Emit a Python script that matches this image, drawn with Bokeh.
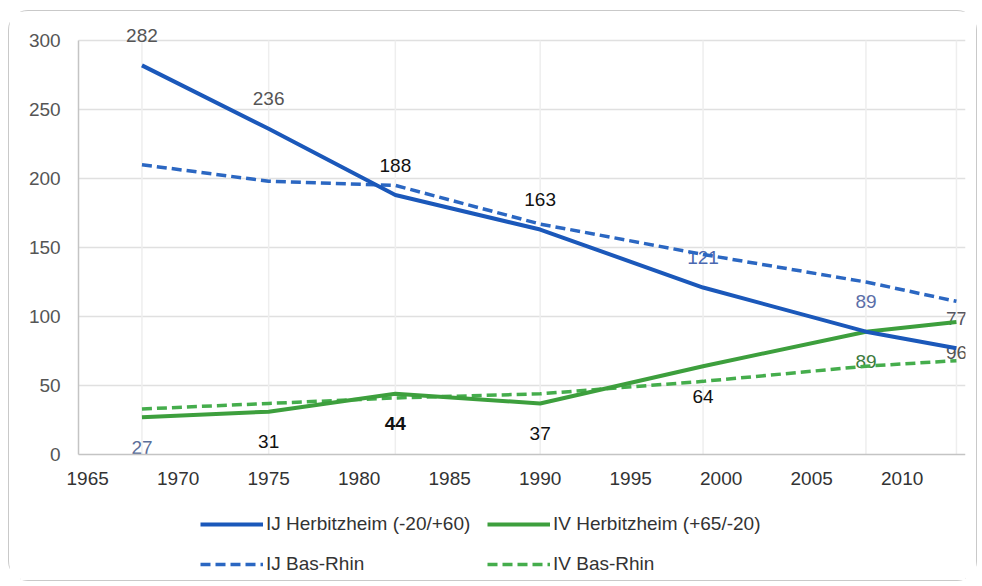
from bokeh.plotting import figure
from bokeh.models import Range1d, FixedTicker, Legend, LegendItem, ColumnDataSource
from bokeh.core.properties import value
from bokeh.embed import file_html
from bokeh.resources import INLINE

# ---- data ----
years = [1968, 1975, 1982, 1990, 1999, 2008, 2013]
ij_herbitzheim = [282, 236, 188, 163, 121, 89, 77]
iv_herbitzheim = [27, 31, 44, 37, 64, 89, 96]
ij_bas_rhin = [210, 198, 195, 167, 145, 125, 111]
iv_bas_rhin = [33, 37, 41, 44, 53, 64, 68]
x_ticks = [1965, 1970, 1975, 1980, 1985, 1990, 1995, 2000, 2005, 2010]
y_ticks = [0, 50, 100, 150, 200, 250, 300]
series_names = ["IJ Herbitzheim (-20/+60)", "IV Herbitzheim (+65/-20)", "IJ Bas-Rhin", "IV Bas-Rhin"]

# ---- styles / layout ----
FONT = "Liberation Sans"
BLUE = "#1b58ba"
BLUE_D = "#2b67c2"
GREEN = "#3d9f3d"
GREEN_D = "#45ad4c"
ij_label_colors = ["#555555", "#555555", "#111111", "#111111", "#4a68b0", "#5b6ea8", "#555560"]
iv_label_colors = ["#5b6e99", "#111111", "#111111", "#111111", "#111111", "#3d7a3d", "#555555"]
iv_label_styles = ["normal", "normal", "bold", "normal", "normal", "normal", "normal"]

AXIS_X = 1964.5              # where the value axis sits
X_LO, X_HI = 1961.29, 2013.5  # frame extends left of the axis to hold tick labels
Y_LO, Y_HI = -91.3, 317.4     # extra room above/below the axis for labels and legend

p = figure(width=969, height=571, output_backend="svg", toolbar_location=None,
           x_range=Range1d(X_LO, X_HI), y_range=Range1d(Y_LO, Y_HI),
           min_border_left=11, min_border_right=13, min_border_top=5, min_border_bottom=2)
p.styles = {"border": "1px solid #c9c9c9", "border-radius": "20px",
            "margin-left": "8px", "margin-top": "10px"}
p.outline_line_color = None
p.background_fill_color = "white"
p.border_fill_color = "white"

# axes (drawn inside the frame at fixed positions)
for ax in (p.xaxis[0], p.yaxis[0]):
    ax.axis_line_color = "#c4c4c4"
    ax.axis_line_width = 1.5
    ax.major_tick_line_color = None
    ax.minor_tick_line_color = None
    ax.major_label_text_font = FONT
    ax.major_label_text_font_size = "19px"
p.xaxis.ticker = FixedTicker(ticks=x_ticks)
p.yaxis.ticker = FixedTicker(ticks=y_ticks)
p.xaxis.fixed_location = y_ticks[0]
p.yaxis.fixed_location = AXIS_X
p.xaxis.bounds = (AXIS_X, X_HI)
p.yaxis.bounds = (y_ticks[0], y_ticks[-1])
p.xaxis.major_label_text_color = "#333333"
p.yaxis.major_label_text_color = "#555555"
p.xaxis.major_label_standoff = 11
p.yaxis.major_label_standoff = 12

# grids limited to the axis extents
p.xgrid.visible = False
p.ygrid.visible = False
grid_y = y_ticks[1:]
p.segment(x0=[AXIS_X] * len(grid_y), y0=grid_y, x1=[X_HI] * len(grid_y), y1=grid_y,
          line_color="#e0e0e0", line_width=1.5)
p.segment(x0=years, y0=[y_ticks[0]] * len(years), x1=years, y1=[y_ticks[-1]] * len(years),
          line_color="#eeeeee", line_width=1.5)

# data labels (drawn under the lines)
src_ij = ColumnDataSource(dict(x=years, y=ij_herbitzheim, t=[str(v) for v in ij_herbitzheim], c=ij_label_colors))
src_iv = ColumnDataSource(dict(x=years, y=iv_herbitzheim, t=[str(v) for v in iv_herbitzheim], c=iv_label_colors,
                               s=iv_label_styles))
p.text(x="x", y="y", text="t", source=src_ij, text_color="c", y_offset=-30,
       text_align="center", text_baseline="middle", text_font=value(FONT), text_font_size="19px")
p.text(x="x", y="y", text="t", source=src_iv, text_color="c", text_font_style="s", y_offset=30,
       text_align="center", text_baseline="middle", text_font=value(FONT), text_font_size="19px")

# lines
r_ij_br = p.line(years, ij_bas_rhin, line_color=BLUE_D, line_width=3.5, line_dash="10 5")
r_iv_br = p.line(years, iv_bas_rhin, line_color=GREEN_D, line_width=3.5, line_dash="10 5")
r_iv = p.line(years, iv_herbitzheim, line_color=GREEN, line_width=4)
r_ij = p.line(years, ij_herbitzheim, line_color=BLUE, line_width=4)


def make_legend(items, x):
    return Legend(items=items, location=(x, 5), orientation="vertical",
                  glyph_width=63, glyph_height=22, label_height=22, label_standoff=3,
                  spacing=18, padding=0, margin=0, border_line_color=None,
                  background_fill_alpha=0, label_text_font=FONT, label_text_font_size="19px",
                  label_text_color="#333333")


# legend x positions are measured from the frame's left edge
leg_a = make_legend([LegendItem(label=series_names[0], renderers=[r_ij]),
                     LegendItem(label=series_names[2], renderers=[r_ij_br])], 180)
leg_b = make_legend([LegendItem(label=series_names[1], renderers=[r_iv]),
                     LegendItem(label=series_names[3], renderers=[r_iv_br])], 467)
p.add_layout(leg_a, "center")
p.add_layout(leg_b, "center")

open("out.html", "w").write(file_html(p, INLINE))
